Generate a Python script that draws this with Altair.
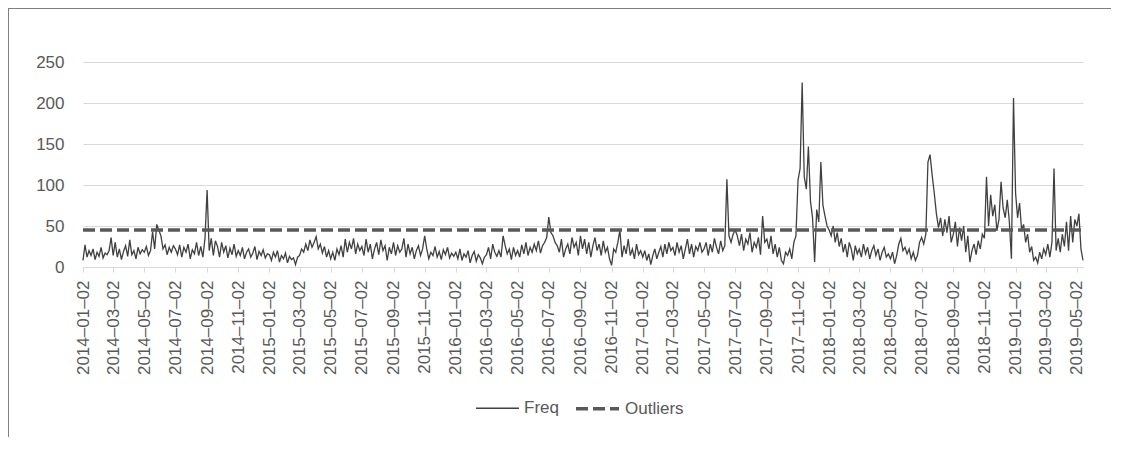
import altair as alt
import pandas as pd

# tick labels (every two months) and the last date of the series
tick_dates = [
    "2014-01-02", "2014-03-02", "2014-05-02", "2014-07-02", "2014-09-02", "2014-11-02",
    "2015-01-02", "2015-03-02", "2015-05-02", "2015-07-02", "2015-09-02", "2015-11-02",
    "2016-01-02", "2016-03-02", "2016-05-02", "2016-07-02", "2016-09-02", "2016-11-02",
    "2017-01-02", "2017-03-02", "2017-05-02", "2017-07-02", "2017-09-02", "2017-11-02",
    "2018-01-02", "2018-03-02", "2018-05-02", "2018-07-02", "2018-09-02", "2018-11-02",
    "2019-01-02", "2019-03-02", "2019-05-02",
]
end_date = "2019-05-14"

# Freq values, one list per two-month span
freq_2014 = [
    [8, 27, 12, 20, 14, 22, 9, 18, 13, 24, 11, 17, 15, 20, 36],
    [14, 30, 12, 22, 9, 19, 26, 13, 33, 15, 20, 10, 24, 16, 21],
    [18, 25, 14, 20, 43, 22, 52, 45, 38, 22, 27, 15, 24, 18, 26],
    [22, 15, 27, 12, 24, 18, 28, 10, 21, 16, 30, 14, 25, 12, 35],
    [94, 20, 35, 14, 32, 25, 12, 30, 18, 26, 11, 23, 15, 28, 13],
    [20, 14, 24, 10, 18, 22, 12, 17, 25, 9, 19, 14, 21, 11, 16],
]
freq_2015 = [
    [15, 8, 18, 12, 20, 6, 14, 10, 17, 5, 13, 9, 11, 3, 12],
    [14, 22, 18, 28, 20, 33, 24, 30, 37, 22, 28, 17, 25, 12, 20],
    [10, 18, 8, 22, 15, 26, 12, 34, 18, 30, 22, 35, 16, 28, 20],
    [25, 14, 34, 18, 28, 10, 22, 30, 15, 33, 20, 26, 8, 24, 16],
    [30, 14, 26, 18, 22, 35, 12, 28, 16, 24, 10, 20, 26, 14, 22],
    [38, 22, 10, 18, 14, 25, 12, 19, 9, 21, 15, 24, 11, 17, 13],
]
freq_2016 = [
    [18, 10, 22, 8, 16, 12, 20, 5, 14, 19, 7, 15, 11, 4, 12],
    [15, 24, 10, 28, 18, 13, 20, 12, 38, 26, 16, 22, 9, 24, 14],
    [20, 12, 27, 16, 30, 14, 24, 18, 28, 20, 32, 17, 26, 30, 36],
    [61, 42, 38, 30, 26, 18, 34, 12, 22, 28, 16, 36, 24, 30, 14],
    [38, 22, 34, 16, 30, 12, 26, 36, 20, 28, 14, 32, 18, 24, 10],
    [2, 22, 18, 30, 45, 12, 26, 16, 34, 14, 22, 10, 28, 15, 20],
]
freq_2017 = [
    [12, 20, 8, 16, 3, 14, 22, 10, 18, 25, 12, 28, 16, 30, 20],
    [24, 14, 30, 18, 26, 10, 22, 34, 16, 28, 12, 25, 20, 30, 18],
    [22, 30, 14, 28, 18, 35, 24, 16, 32, 20, 26, 107, 38, 30, 40],
    [45, 38, 26, 40, 20, 34, 28, 42, 18, 30, 24, 36, 15, 62, 30],
    [34, 22, 38, 16, 28, 12, 24, 8, 4, 18, 14, 22, 10, 30, 38],
    [106, 120, 225, 110, 95, 147, 80, 60, 6, 70, 55, 128, 75, 62, 50],
]
freq_2018 = [
    [45, 38, 50, 30, 42, 25, 35, 18, 28, 12, 30, 22, 8, 26, 16],
    [22, 12, 28, 16, 24, 10, 20, 26, 14, 22, 8, 18, 24, 12, 16],
    [10, 18, 4, 14, 28, 35, 20, 24, 16, 22, 10, 18, 8, 14, 30],
    [36, 28, 40, 128, 137, 112, 90, 65, 48, 60, 38, 58, 42, 62, 30],
    [40, 55, 25, 48, 32, 50, 18, 38, 6, 20, 28, 15, 32, 22, 40],
    [35, 110, 50, 88, 62, 76, 44, 58, 104, 72, 60, 82, 55, 10, 206],
]
freq_2019 = [
    [90, 60, 78, 45, 52, 30, 40, 18, 25, 8, 12, 5, 18, 10, 22],
    [15, 28, 12, 30, 120, 20, 35, 18, 40, 25, 55, 20, 62, 30, 58],
    [50, 65, 22, 8],
]
outlier_level = 45
series_names = ["Freq", "Outliers"]

spans = freq_2014 + freq_2015 + freq_2016 + freq_2017 + freq_2018 + freq_2019
rows = []
for k, vals in enumerate(spans):
    start = pd.Timestamp(tick_dates[k])
    if k + 1 < len(tick_dates):
        stamps = pd.date_range(start, pd.Timestamp(tick_dates[k + 1]), periods=len(vals) + 1)[:-1]
    else:
        stamps = pd.date_range(start, pd.Timestamp(end_date), periods=len(vals))
    for t, v in zip(stamps, vals):
        rows.append({"date": t.strftime("%Y-%m-%dT%H:%M:%S"), "value": v, "series": "Freq"})
for d in [tick_dates[0], end_date]:
    rows.append({"date": d + "T00:00:00", "value": outlier_level, "series": "Outliers"})
df = pd.DataFrame(rows)


def dt(s):
    y, m, d = (int(p) for p in s.split("-"))
    return alt.DateTime(year=y, month=m, date=d)


FONT = "Liberation Sans"
TXT = "#595959"

lines = alt.Chart(df).mark_line(strokeJoin="miter", strokeCap="butt").encode(
    x=alt.X(
        "date:T",
        scale=alt.Scale(domain=[dt(tick_dates[0]), dt(end_date)], nice=False),
        axis=alt.Axis(
            values=[dt(s) for s in tick_dates], format="%Y–%m–%d", labelAngle=270,
            grid=False, domainColor="#d9d9d9", tickColor="#d9d9d9", tickSize=5,
            labelPadding=8, labelFontSize=17, labelColor=TXT, labelFont=FONT,
            labelOverlap=False, labelFlush=False, title=None,
        ),
    ),
    y=alt.Y(
        "value:Q",
        scale=alt.Scale(domain=[0, 250], nice=False),
        axis=alt.Axis(
            values=[0, 50, 100, 150, 200, 250], grid=True, gridColor="#d9d9d9",
            domain=False, ticks=False, labelPadding=19, labelFontSize=17,
            labelColor=TXT, labelFont=FONT, title=None,
        ),
    ),
    color=alt.Color(
        "series:N",
        scale=alt.Scale(domain=series_names, range=["#404040", "#595959"]),
        legend=alt.Legend(title=None),
    ),
    strokeDash=alt.StrokeDash(
        "series:N",
        scale=alt.Scale(domain=series_names, range=[[1, 0], [12, 5]]),
        legend=alt.Legend(title=None),
    ),
    strokeWidth=alt.StrokeWidth(
        "series:N",
        scale=alt.Scale(domain=series_names, range=[1.3, 3.5]),
        legend=alt.Legend(title=None),
    ),
)

# outer chart-area frame (left and top edges)
frame_src = pd.DataFrame({"edge": ["frame"]})
frame_left = alt.Chart(frame_src).mark_rule(color="#7f7f7f", strokeWidth=1).encode(
    x=alt.value(-74.5), y=alt.value(-54), y2=alt.value(375)
)
frame_top = alt.Chart(frame_src).mark_rule(color="#7f7f7f", strokeWidth=1).encode(
    x=alt.value(-75), x2=alt.value(1028), y=alt.value(-53.5)
)

chart = alt.layer(lines, frame_left, frame_top).properties(
    width=1000, height=205,
    autosize=alt.AutoSizeParams(type="none"),
    padding={"left": 75, "top": 54, "right": 28, "bottom": 170},
).configure_view(
    stroke="transparent"
).configure_legend(
    orient="none", legendX=392, legendY=323, direction="horizontal",
    symbolType="stroke", symbolSize=1849, labelFontSize=17, labelColor=TXT,
    labelFont=FONT, labelOffset=4, columnPadding=10, symbolStrokeColor="#4a4a4a",
)

chart.save("out.html", embed_options={"renderer": "svg", "actions": False})
